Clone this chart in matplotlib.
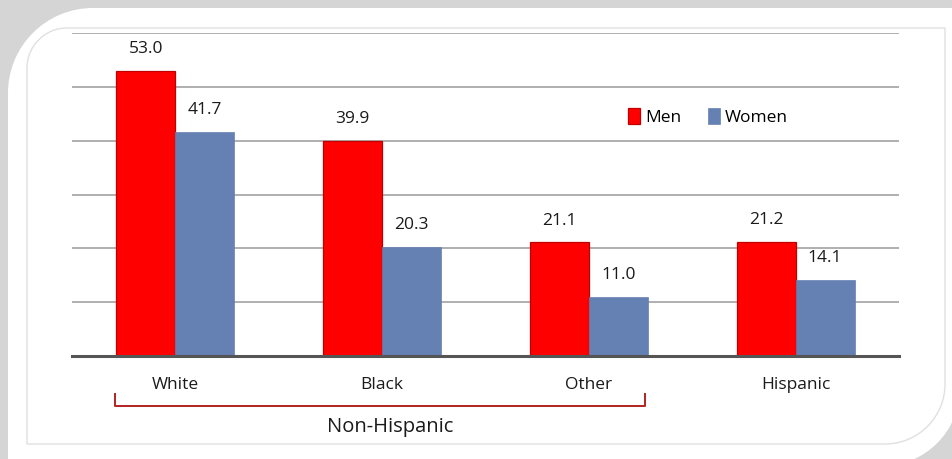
import numpy as np
import matplotlib
matplotlib.use('Agg')
from matplotlib import pyplot as plt
from matplotlib.patches import PathPatch
from matplotlib.path import Path
from matplotlib.transforms import IdentityTransform

groups = ['White', 'Black', 'Other', 'Hispanic']
men = [53.0, 39.9, 21.1, 21.2]
women = [41.7, 20.3, 11.0, 14.1]
series_names = ['Men', 'Women']
bracket_label = 'Non-Hispanic'

W, H = 952, 459
red = '#ff0000'
blue = '#6580b2'
K = 0.5523

plt.rcParams['font.family'] = ['Open Sans', 'DejaVu Sans']
fig = plt.figure(figsize=(W / 100, H / 100), dpi=100)
fig.patch.set_facecolor('#d5d5d5')


def px(x, y):
    # pixel coords measured from top-left -> display coords
    return (x, H - y)


def outline(l, t, r, b, rtl, rbr):
    # rectangle with rounded top-left and bottom-right corners
    v = [px(l + rtl, t), px(r, t), px(r, b - rbr),
         px(r, b - rbr + K * rbr), px(r - rbr + K * rbr, b), px(r - rbr, b),
         px(l, b), px(l, t + rtl),
         px(l, t + rtl - K * rtl), px(l + rtl - K * rtl, t), px(l + rtl, t),
         px(l + rtl, t)]
    c = [Path.MOVETO, Path.LINETO, Path.LINETO,
         Path.CURVE4, Path.CURVE4, Path.CURVE4,
         Path.LINETO, Path.LINETO,
         Path.CURVE4, Path.CURVE4, Path.CURVE4, Path.CLOSEPOLY]
    return Path(v, c)


# white panel (runs off the right and bottom edges)
fig.patches.append(PathPatch(outline(8, 8, 960, 466, 85, 78),
                             transform=IdentityTransform(),
                             facecolor='white', edgecolor='none', zorder=0))
# thin inner frame
fig.patches.append(PathPatch(outline(27, 28, 945, 444, 40, 60),
                             transform=IdentityTransform(),
                             facecolor='white', edgecolor='#e0e0e0', lw=1.0,
                             zorder=1))

ax = fig.add_axes([72 / W, 1 - 356 / H, 827 / W, 323 / H])
ax.set_facecolor('none')
ax.set_zorder(2)

x = np.arange(len(groups))
width = 0.285
b1 = ax.bar(x - width / 2, men, width, color=red, edgecolor='#c00000', lw=0.9,
            label=series_names[0], zorder=3)
b2 = ax.bar(x + width / 2, women, width, color=blue, edgecolor=blue, lw=0.5,
            label=series_names[1], zorder=3)

for bars, vals in [(b1, men), (b2, women)]:
    for bar, v in zip(bars, vals):
        ax.annotate('%.1f' % v, (bar.get_x() + bar.get_width() / 2, v),
                    xytext=(0, 10), textcoords='offset points',
                    ha='center', va='bottom', fontsize=12.5, color='#1a1a1a')

ax.set_xlim(-0.5, 3.5)
ax.set_ylim(0, 60)
ax.set_yticks(range(10, 70, 10))
ax.yaxis.grid(True, color='#9a9a9a', lw=1.1)
ax.set_axisbelow(True)
ax.axhline(0, color='#555555', lw=2.2, zorder=4, clip_on=False)
for s in ax.spines.values():
    s.set_visible(False)
ax.tick_params(left=False, bottom=False, labelleft=False, labelbottom=False)

trans = ax.get_xaxis_transform()
for xi, g in zip(x, groups):
    ax.text(xi, -0.09, g, transform=trans, ha='center', va='center',
            fontsize=12.5, color='#1a1a1a')

# bracket under the non-hispanic groups
bx = [-0.29, -0.29, 2.272, 2.272]
by = [-0.118, -0.155, -0.155, -0.118]
ax.plot(bx, by, transform=trans, color='#b22222', lw=1.4, clip_on=False)
ax.text(1.04, -0.22, bracket_label, transform=trans, ha='center', va='center',
        fontsize=14.5, color='#1a1a1a')

ax.legend(loc='center left', bbox_to_anchor=(2.19, 44.4),
          bbox_transform=ax.transData, ncol=2, frameon=False, fontsize=12.5,
          handlelength=0.7, handleheight=1.0, handletextpad=0.3,
          columnspacing=1.5, borderaxespad=0, borderpad=0)

fig.savefig('out.png', dpi=100, facecolor=fig.get_facecolor())
